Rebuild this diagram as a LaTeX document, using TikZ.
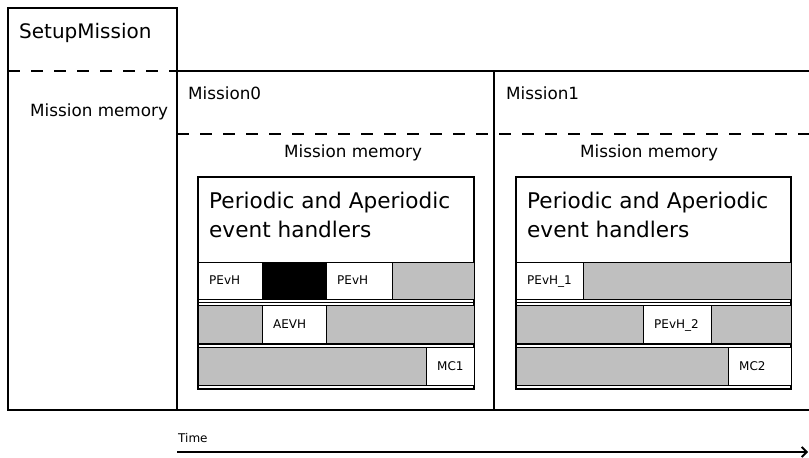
\documentclass[tikz,border=0pt]{standalone}
\usepackage{fontspec}
\setmainfont{DejaVu Sans}
\usetikzlibrary{arrows.meta}
\definecolor{cellgray}{RGB}{191,191,191}
\begin{document}
\begin{tikzpicture}[x=1pt,y=-1pt,
  frame/.style={line width=2pt},
  memline/.style={line width=1.8pt, dash pattern=on 12pt off 11pt},
  inner/.style={line width=1.5pt},
  label/.style={anchor=base west, inner sep=0pt},
  title/.style={label, font=\fontsize{20}{24}\selectfont},
  mlabel/.style={label, font=\fontsize{16.8}{20}\selectfont},
  hdr/.style={label, font=\fontsize{21.6}{28}\selectfont},
  cell/.style={draw, line width=1.4pt, anchor=north west, minimum height=37.5pt,
               inner sep=0pt},
  idle/.style={cell, fill=cellgray},
  busy/.style={cell, fill=white},
  block/.style={cell, fill=black},
  celltext/.style={label, font=\fontsize{12}{14}\selectfont}]
\useasboundingbox (0,0) rectangle (809,458);

% --- SetupMission column ---
\draw[frame] (8,8) rectangle (177,410);
\draw[memline] (8,71) -- (177,71);
\node[title] (setup) at (19,38) {SetupMission};
\node[mlabel] (smem) at (30,116) {Mission memory};

% --- mission band ---
\draw[frame] (177,71) -- (809,71);
\draw[frame] (8,410) -- (809,410);
\draw[frame] (494,71) -- (494,410);
\draw[memline] (177,134) -- (809,134);
\node[mlabel] (m0) at (188,99) {Mission0};
\node[mlabel] (m1) at (506,99) {Mission1};
\node[mlabel] (m0mem) at (284,157) {Mission memory};
\node[mlabel] (m1mem) at (580,157) {Mission memory};

% --- Mission0 handlers ---
\draw[inner] (198,177) rectangle (474,389);
\draw[line width=1.2pt] (198,302.5) -- (474,302.5);
\draw[line width=1.2pt] (198,344.5) -- (474,344.5);
\node[hdr] (h0a) at (209,208) {Periodic and Aperiodic};
\node[hdr] (h0b) at (209,237) {event handlers};

\node[busy, minimum width=64pt] (a1) at (198,261.5) {};
\node[block, minimum width=64pt] (a2) at (262,261.5) {};
\node[busy, minimum width=66pt] (a3) at (326,261.5) {};
\node[idle, minimum width=82pt] (a4) at (392,261.5) {};

\node[idle, minimum width=64pt] (b1) at (198,305) {};
\node[busy, minimum width=64pt] (b2) at (262,305) {};
\node[idle, minimum width=148pt] (b3) at (326,305) {};

\node[idle, minimum width=228pt] (c1) at (198,347) {};
\node[busy, minimum width=48pt] (c2) at (426,347) {};

% --- Mission1 handlers ---
\draw[inner] (516,177) rectangle (791,389);
\draw[line width=1.2pt] (516,302.5) -- (791,302.5);
\draw[line width=1.2pt] (516,344.5) -- (791,344.5);
\node[hdr] (h1a) at (527,208) {Periodic and Aperiodic};
\node[hdr] (h1b) at (527,237) {event handlers};

\node[busy, minimum width=67pt] (d1) at (516,261.5) {};
\node[idle, minimum width=208pt] (d2) at (583,261.5) {};

\node[idle, minimum width=127pt] (e1) at (516,305) {};
\node[busy, minimum width=68pt] (e2) at (643,305) {};
\node[idle, minimum width=80pt] (e3) at (711,305) {};

\node[idle, minimum width=212pt] (f1) at (516,347) {};
\node[busy, minimum width=63pt] (f2) at (728,347) {};

% --- handler names, left-aligned in their slots ---
\foreach \slot/\name in {a1/PEvH, a3/PEvH, b2/AEVH, c2/MC1,
                         d1/PEvH\_1, e2/PEvH\_2, f2/MC2}
  \node[celltext] (\slot-name) at ([xshift=11pt, yshift=-4pt]\slot.west) {\name};

% --- time axis ---
\coordinate (t0) at (177,452);
\coordinate (t1) at (808,452);
\node[label, font=\fontsize{12}{14}\selectfont] (time) at (178,442) {Time};
\draw[line width=1.8pt, -{Straight Barb[length=5pt, width=10pt]}] (t0) -- (t1);
\end{tikzpicture}
\end{document}
